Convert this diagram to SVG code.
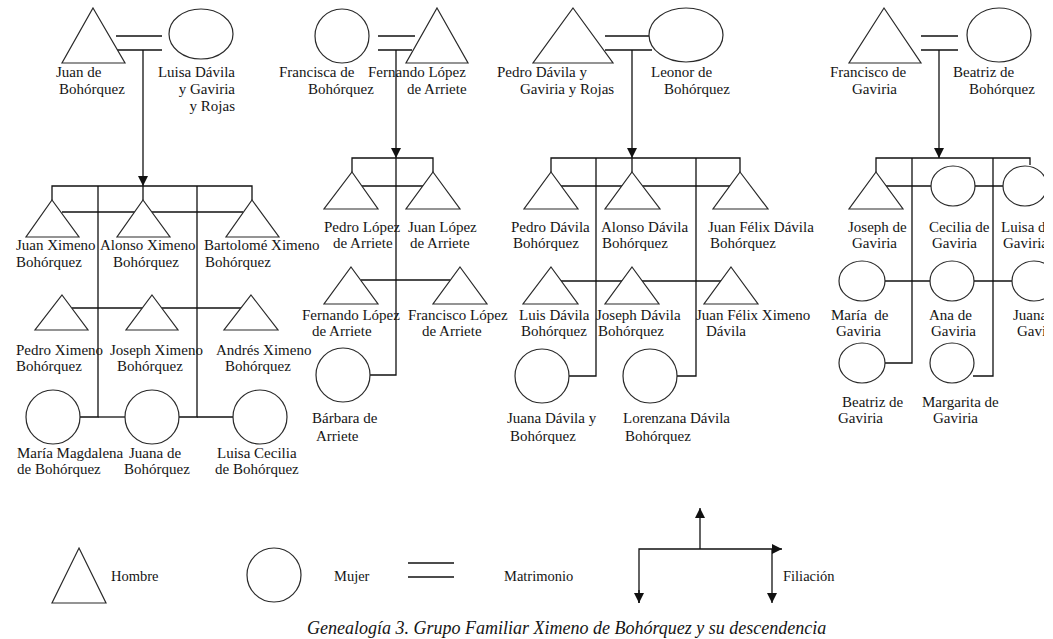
<svg xmlns="http://www.w3.org/2000/svg" width="1053" height="639" viewBox="0 0 1053 639">
<style>
  text { font-family: "Liberation Serif", "Times New Roman", serif; font-size: 15px; fill: #151515; }
  .lg { font-size: 14.5px; }
  .cap { font-size: 18px; font-style: italic; }
  .sh { fill: #fff; stroke: #2a2a2a; stroke-width: 1.2; }
  .ln { fill: none; stroke: #111; stroke-width: 1.3; }
</style>
<defs>
  <marker id="arr" markerUnits="userSpaceOnUse" markerWidth="10" markerHeight="10" refX="10" refY="5" orient="auto">
    <path d="M0,0 L10,5 L0,10 z" fill="#111"/>
  </marker>
  <clipPath id="page"><rect x="0" y="0" width="1044" height="639"/></clipPath>
</defs>
<rect width="1053" height="639" fill="#fff"/>
<g clip-path="url(#page)">
<g id="connectors" class="ln">
  <!-- Family 1 -->
  <line x1="116" y1="36" x2="162" y2="36"/>
  <line x1="116" y1="50" x2="162" y2="50"/>
  <line x1="143" y1="50" x2="143" y2="186" marker-end="url(#arr)"/>
  <line x1="143" y1="186" x2="143" y2="200"/>
  <polyline points="52,200 52,186 252,186 252,200"/>
  <line x1="62" y1="212" x2="243" y2="212"/>
  <line x1="72" y1="308" x2="243" y2="308"/>
  <polyline points="80,417 98,417 98,186"/>
  <line x1="98" y1="417" x2="125" y2="417"/>
  <polyline points="179,417 197,417 197,186"/>
  <line x1="197" y1="417" x2="233" y2="417"/>
  <!-- Family 2 -->
  <line x1="378" y1="36" x2="415" y2="36"/>
  <line x1="378" y1="50" x2="412" y2="50"/>
  <line x1="396" y1="50" x2="396" y2="158" marker-end="url(#arr)"/>
  <polyline points="396,158 396,375 370,375"/>
  <polyline points="352,172 352,158 433,158 433,172"/>
  <line x1="361" y1="186" x2="423" y2="186"/>
  <line x1="361" y1="280" x2="450" y2="280"/>
  <!-- Family 3 -->
  <line x1="605" y1="36" x2="649" y2="36"/>
  <line x1="605" y1="50" x2="652" y2="50"/>
  <line x1="632" y1="50" x2="632" y2="158" marker-end="url(#arr)"/>
  <line x1="632" y1="158" x2="632" y2="172"/>
  <polyline points="551,172 551,158 740,158 740,172"/>
  <line x1="560" y1="186" x2="732" y2="186"/>
  <line x1="560" y1="281" x2="722" y2="281"/>
  <polyline points="569,376 596,376 596,158"/>
  <polyline points="677,376 696,376 696,158"/>
  <!-- Family 4 -->
  <line x1="921" y1="36" x2="958" y2="36"/>
  <line x1="921" y1="50" x2="958" y2="50"/>
  <line x1="939" y1="50" x2="939" y2="158" marker-end="url(#arr)"/>
  <polyline points="876,172 876,158 1030,158 1030,165"/>
  <line x1="886" y1="186" x2="1003" y2="186"/>
  <line x1="885" y1="281" x2="1012" y2="281"/>
  <polyline points="885,363 912,363 912,158"/>
  <polyline points="973,376 993,376 993,158"/>
</g>

<!-- Family 1 -->
<g id="juan-de-bohorquez"><polygon class="sh" points="93,8 125,63 62,63"/><text x="56" y="77">Juan de</text><text x="59" y="94">Bohórquez</text></g>
<g id="luisa-davila"><ellipse class="sh" cx="201" cy="34" rx="32" ry="25"/><text x="235" y="77" text-anchor="end">Luisa Dávila</text><text x="235" y="94" text-anchor="end">y Gaviria</text><text x="235" y="111" text-anchor="end">y Rojas</text></g>
<g id="juan-ximeno"><polygon class="sh" points="52,200 79,237 26,237"/><text x="16" y="250">Juan Ximeno</text><text x="16" y="267">Bohórquez</text></g>
<g id="alonso-ximeno"><polygon class="sh" points="143,200 170,237 117,237"/><text x="100" y="250">Alonso Ximeno</text><text x="113" y="267">Bohórquez</text></g>
<g id="bartolome-ximeno"><polygon class="sh" points="252,200 279,237 226,237"/><text x="204" y="250">Bartolomé Ximeno</text><text x="205" y="267">Bohórquez</text></g>
<g id="pedro-ximeno"><polygon class="sh" points="62,295 88,330 35,330"/><text x="16" y="355">Pedro Ximeno</text><text x="16" y="371">Bohórquez</text></g>
<g id="joseph-ximeno"><polygon class="sh" points="152,295 178,330 126,330"/><text x="110" y="355">Joseph Ximeno</text><text x="117" y="371">Bohórquez</text></g>
<g id="andres-ximeno"><polygon class="sh" points="251,295 278,330 224,330"/><text x="216" y="355">Andrés Ximeno</text><text x="225" y="371">Bohórquez</text></g>
<g id="maria-magdalena"><circle class="sh" cx="53" cy="417" r="27"/><text x="17" y="458">María Magdalena</text><text x="17" y="474">de Bohórquez</text></g>
<g id="juana-de-bohorquez"><circle class="sh" cx="152" cy="417" r="27"/><text x="129" y="458">Juana de</text><text x="124" y="474">Bohórquez</text></g>
<g id="luisa-cecilia"><circle class="sh" cx="260" cy="417" r="27"/><text x="217" y="458">Luisa Cecilia</text><text x="215" y="474">de Bohórquez</text></g>

<!-- Family 2 -->
<g id="francisca-de-bohorquez"><circle class="sh" cx="342" cy="36" r="27"/><text x="279" y="77">Francisca de</text><text x="308" y="94">Bohórquez</text></g>
<g id="fernando-lopez"><polygon class="sh" points="437,8 468,63 406,63"/><text x="368" y="77">Fernando López</text><text x="407" y="94">de Arriete</text></g>
<g id="pedro-lopez"><polygon class="sh" points="352,172 378,209 324,209"/><text x="324" y="232">Pedro López</text><text x="333" y="248">de Arriete</text></g>
<g id="juan-lopez"><polygon class="sh" points="433,172 460,209 406,209"/><text x="408" y="232">Juan López</text><text x="410" y="248">de Arriete</text></g>
<g id="fernando-lopez-hijo"><polygon class="sh" points="351,267 378,304 324,304"/><text x="302" y="320">Fernando López</text><text x="312" y="336">de Arriete</text></g>
<g id="francisco-lopez"><polygon class="sh" points="460,267 487,304 433,304"/><text x="408" y="320">Francisco López</text><text x="422" y="336">de Arriete</text></g>
<g id="barbara-de-arriete"><circle class="sh" cx="343" cy="375" r="27"/><text x="312" y="423">Bárbara de</text><text x="316" y="441">Arriete</text></g>

<!-- Family 3 -->
<g id="pedro-davila-gaviria"><polygon class="sh" points="573,8 613,63 533,63"/><text x="497" y="77">Pedro Dávila y</text><text x="520" y="94">Gaviria y Rojas</text></g>
<g id="leonor-de-bohorquez"><ellipse class="sh" cx="686" cy="35" rx="37" ry="27"/><text x="651" y="77">Leonor de</text><text x="664" y="94">Bohórquez</text></g>
<g id="pedro-davila-bohorquez"><polygon class="sh" points="551,172 578,209 524,209"/><text x="511" y="232">Pedro Dávila</text><text x="513" y="248">Bohórquez</text></g>
<g id="alonso-davila"><polygon class="sh" points="632,172 660,209 605,209"/><text x="601" y="232">Alonso Dávila</text><text x="602" y="248">Bohórquez</text></g>
<g id="juan-felix-davila"><polygon class="sh" points="740,172 768,209 713,209"/><text x="708" y="232">Juan Félix Dávila</text><text x="710" y="248">Bohórquez</text></g>
<g id="luis-davila"><polygon class="sh" points="551,267 578,304 523,304"/><text x="519" y="320">Luis Dávila</text><text x="521" y="336">Bohórquez</text></g>
<g id="joseph-davila"><polygon class="sh" points="632,267 659,304 605,304"/><text x="596" y="320">Joseph Dávila</text><text x="598" y="336">Bohórquez</text></g>
<g id="juan-felix-ximeno"><polygon class="sh" points="731,267 758,304 704,304"/><text x="696" y="320">Juan Félix Ximeno</text><text x="706" y="336">Dávila</text></g>
<g id="juana-davila"><circle class="sh" cx="542" cy="376" r="27"/><text x="507" y="423">Juana Dávila y</text><text x="510" y="441">Bohórquez</text></g>
<g id="lorenzana-davila"><circle class="sh" cx="650" cy="376" r="27"/><text x="623" y="423">Lorenzana Dávila</text><text x="625" y="441">Bohórquez</text></g>

<!-- Family 4 -->
<g id="francisco-de-gaviria"><polygon class="sh" points="884,8 921,63 849,63"/><text x="830" y="77">Francisco de</text><text x="852" y="94">Gaviria</text></g>
<g id="beatriz-de-bohorquez"><ellipse class="sh" cx="999" cy="35" rx="32" ry="27"/><text x="953" y="77">Beatriz de</text><text x="969" y="94">Bohórquez</text></g>
<g id="joseph-de-gaviria"><polygon class="sh" points="876,172 903,209 849,209"/><text x="848" y="232">Joseph de</text><text x="852" y="248">Gaviria</text></g>
<g id="cecilia-de-gaviria"><ellipse class="sh" cx="953" cy="186" rx="22" ry="20"/><text x="929" y="232">Cecilia de</text><text x="932" y="248">Gaviria</text></g>
<g id="luisa-de-gaviria"><ellipse class="sh" cx="1025" cy="186" rx="22" ry="20"/><text x="1001" y="232">Luisa de</text><text x="1003" y="248">Gaviria</text></g>
<g id="maria-de-gaviria"><ellipse class="sh" cx="862" cy="281" rx="23" ry="20"/><text x="831" y="320" xml:space="preserve">María  de</text><text x="836" y="336">Gaviria</text></g>
<g id="ana-de-gaviria"><ellipse class="sh" cx="952" cy="281" rx="22" ry="20"/><text x="929" y="320">Ana de</text><text x="931" y="336">Gaviria</text></g>
<g id="juana-de-gaviria"><ellipse class="sh" cx="1034" cy="281" rx="22" ry="20"/><text x="1013" y="320">Juana de</text><text x="1017" y="336">Gaviria</text></g>
<g id="beatriz-de-gaviria"><ellipse class="sh" cx="862" cy="363" rx="23" ry="20"/><text x="842" y="407">Beatriz de</text><text x="838" y="423">Gaviria</text></g>
<g id="margarita-de-gaviria"><ellipse class="sh" cx="952" cy="363" rx="22" ry="20"/><text x="922" y="407">Margarita de</text><text x="933" y="423">Gaviria</text></g>
</g>

<!-- Legend -->
<g id="legend">
  <polygon class="sh" points="79,548 106,603 52,603"/>
  <text class="lg" x="111" y="581">Hombre</text>
  <circle class="sh" cx="274" cy="575" r="27"/>
  <text class="lg" x="334" y="581">Mujer</text>
  <line class="ln" x1="408" y1="563" x2="454" y2="563"/>
  <line class="ln" x1="408" y1="577" x2="454" y2="577"/>
  <text class="lg" x="504" y="581">Matrimonio</text>
  <line class="ln" x1="700" y1="549" x2="700" y2="508" marker-end="url(#arr)"/>
  <polyline class="ln" points="639,603 639,549 782,549" marker-end="url(#arr)"/>
  <line class="ln" x1="639" y1="590" x2="639" y2="603" marker-end="url(#arr)"/>
  <line class="ln" x1="772" y1="549" x2="772" y2="603" marker-end="url(#arr)"/>
  <text class="lg" x="783" y="581">Filiación</text>
  <text class="cap" x="307" y="634">Genealogía 3. Grupo Familiar Ximeno de Bohórquez y su descendencia</text>
</g>
</svg>
